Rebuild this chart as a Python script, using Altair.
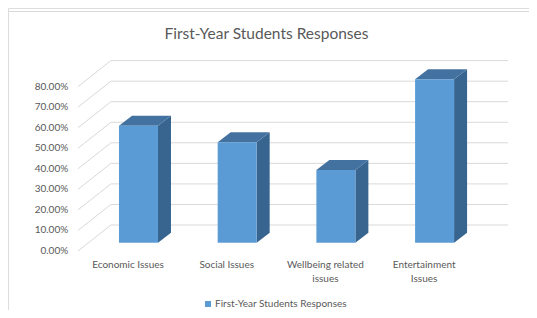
import altair as alt
import pandas as pd

# ---------------- data ----------------
categories = ["Economic Issues", "Social Issues", "Wellbeing related issues", "Entertainment Issues"]
label_lines = [["Economic Issues"], ["Social Issues"], ["Wellbeing related", "issues"], ["Entertainment", "Issues"]]
values = [56.9, 48.9, 35.4, 79.5]
series_name = "First-Year Students Responses"
chart_title = "First-Year Students Responses"
y_ticks = [0, 10, 20, 30, 40, 50, 60, 70, 80]

# ---------------- layout (scale units) ----------------
W, H = 521, 302
PX_Y = 2.055          # pixels per percent
PX_X = 98.7           # pixels per category slot
X_MIN = -1.322
X_MAX = X_MIN + W / PX_X
Y_MAX = 118.25
Y_MIN = Y_MAX - H / PX_Y

BAR_HALF = 19.5 / PX_X
DEPTH_X = 13 / PX_X
DEPTH_Y = 10 / PX_Y
BAR_BASE = 4.04
WALL_FRONT_X = -0.613
WALL_BACK_X = -0.279
WALL_RIGHT_X = 3.744
WALL_DY = 12.65
TICK_LABEL_X = -0.712
LABEL_SHIFT = -0.106
LABEL_Y = -4.4

FONT = "Lato"
TXT = "#595959"
GRID = "#D9D9D9"
FRONT = "#5B9BD5"
TOP = "#4472A0"
SIDE = "#386590"

xs = alt.Scale(domain=[X_MIN, X_MAX], nice=False, zero=False)
ys = alt.Scale(domain=[Y_MIN, Y_MAX], nice=False, zero=False)

# ---------------- derived tables ----------------
bars = pd.DataFrame({
    "name": categories,
    "i": range(len(categories)),
    "value": values,
    "series": series_name,
})
bars["xL"] = bars["i"] - BAR_HALF
bars["xR"] = bars["i"] + BAR_HALF
bars["top"] = bars["value"] + BAR_BASE
bars["base"] = BAR_BASE

side_rows, top_rows = [], []
for r in bars.to_dict("records"):
    side_rows.append({"name": r["name"], "x": r["xR"], "y": r["top"], "y2": r["base"]})
    side_rows.append({"name": r["name"], "x": r["xR"] + DEPTH_X, "y": r["top"] + DEPTH_Y, "y2": r["base"] + DEPTH_Y})
    top_rows.append({"name": r["name"], "y": r["top"], "x": r["xL"], "x2": r["xR"]})
    top_rows.append({"name": r["name"], "y": r["top"] + DEPTH_Y, "x": r["xL"] + DEPTH_X, "x2": r["xR"] + DEPTH_X})
side_df = pd.DataFrame(side_rows)
top_df = pd.DataFrame(top_rows)

grid_df = pd.DataFrame({"v": y_ticks})
grid_df["vb"] = grid_df["v"] + WALL_DY
grid_df["xf"] = WALL_FRONT_X
grid_df["xb"] = WALL_BACK_X
grid_df["xr"] = WALL_RIGHT_X
grid_df["xl"] = TICK_LABEL_X
grid_df["label"] = [f"{v:.2f}%" for v in y_ticks]

labels_df = pd.DataFrame({
    "lines": label_lines,
    "x": [i + LABEL_SHIFT for i in range(len(categories))],
    "y": LABEL_Y,
})

# ---------------- layers ----------------
frame = alt.Chart(pd.DataFrame({"a": [0]})).mark_rect(
    fill=None, stroke=GRID, strokeWidth=1
).encode(x=alt.value(-0.5), x2=alt.value(600), y=alt.value(3.5), y2=alt.value(600))

back_grid = alt.Chart(grid_df).mark_rule(color=GRID, strokeWidth=1).encode(
    x=alt.X("xb:Q", scale=xs, axis=None),
    x2="xr:Q",
    y=alt.Y("vb:Q", scale=ys, axis=None),
)

diag = alt.Chart(grid_df).mark_rule(color=GRID, strokeWidth=1).encode(
    x=alt.X("xf:Q", scale=xs, axis=None),
    x2="xb:Q",
    y=alt.Y("v:Q", scale=ys, axis=None),
    y2="vb:Q",
)

tick_labels = alt.Chart(grid_df).mark_text(
    font=FONT, fontSize=10, color=TXT, align="right", baseline="middle"
).encode(
    x=alt.X("xl:Q", scale=xs, axis=None),
    y=alt.Y("v:Q", scale=ys, axis=None),
    text="label:N",
)

side = alt.Chart(side_df).mark_area(orient="vertical", color=SIDE).encode(
    x=alt.X("x:Q", scale=xs, axis=None),
    y=alt.Y("y:Q", scale=ys, axis=None),
    y2="y2:Q",
    detail="name:N",
)

topf = alt.Chart(top_df).mark_area(orient="horizontal", color=TOP).encode(
    y=alt.Y("y:Q", scale=ys, axis=None),
    x=alt.X("x:Q", scale=xs, axis=None),
    x2="x2:Q",
    detail="name:N",
)

front = alt.Chart(bars).mark_rect().encode(
    x=alt.X("xL:Q", scale=xs, axis=None),
    x2="xR:Q",
    y=alt.Y("top:Q", scale=ys, axis=None),
    y2="base:Q",
    color=alt.Color("series:N", scale=alt.Scale(domain=[series_name], range=[FRONT]),
                    legend=alt.Legend(orient="none", legendX=195, legendY=291, title=None,
                                      symbolType="square", symbolSize=36, symbolStrokeWidth=0,
                                      labelFont=FONT, labelFontSize=10, labelColor=TXT,
                                      labelOffset=2, padding=0)),
)

cat_labels = alt.Chart(labels_df).mark_text(
    font=FONT, fontSize=10, color=TXT, baseline="top", align="center", lineHeight=14
).encode(
    x=alt.X("x:Q", scale=xs, axis=None),
    y=alt.Y("y:Q", scale=ys, axis=None),
    text="lines",
)

title = alt.Chart(pd.DataFrame({"t": [chart_title]})).mark_text(
    font=FONT, fontSize=15.5, color=TXT, align="center", baseline="middle"
).encode(x=alt.value(258.5), y=alt.value(26), text="t:N")

chart = alt.layer(frame, back_grid, diag, tick_labels, side, topf, front, cat_labels, title).properties(
    width=W, height=H, padding=0, autosize=alt.AutoSizeParams(type="none")
).configure_view(stroke=None).configure(background="white")

chart.save("out.html", embed_options={"renderer": "svg", "actions": False})
